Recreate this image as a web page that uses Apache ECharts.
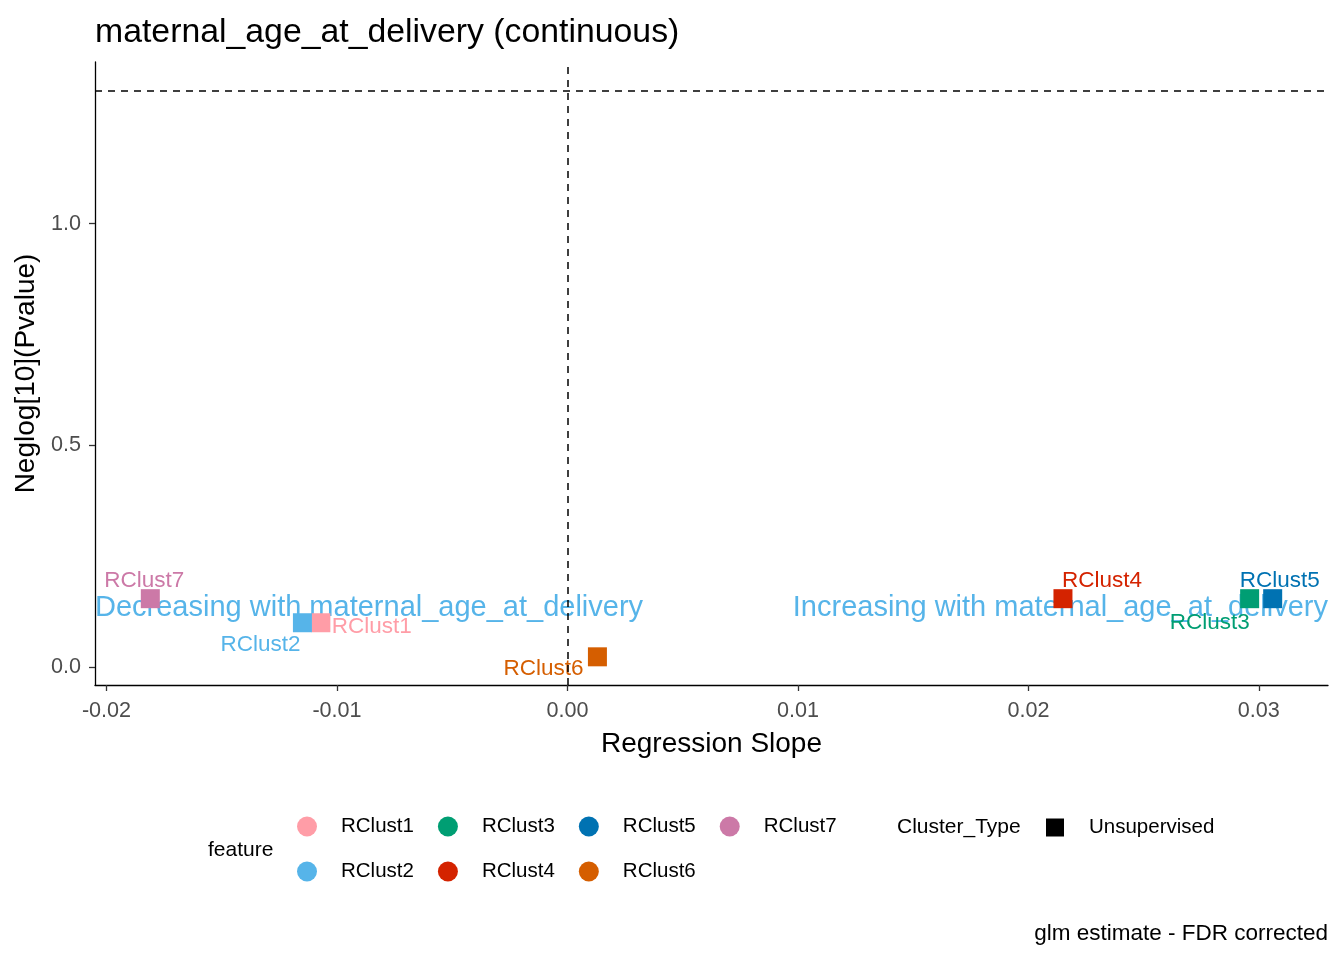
<!DOCTYPE html>
<html>
<head>
<meta charset="utf-8">
<script src="https://cdn.jsdelivr.net/npm/echarts@6/dist/echarts.min.js"></script>
<style>
  html, body { margin: 0; padding: 0; background: #fff; }
  #chart { width: 1344px; height: 960px; }
</style>
</head>
<body>
<div id="chart"></div>
<script>
// data
var clusters = ['RClust1', 'RClust2', 'RClust3', 'RClust4', 'RClust5', 'RClust6', 'RClust7'];
var slope = [-0.0107, -0.0115, 0.0296, 0.0215, 0.0306, 0.0013, -0.0181];
var negLogP = [0.0995, 0.0995, 0.1538, 0.1538, 0.1538, 0.0226, 0.1538];
var xTicks = [-0.02, -0.01, 0, 0.01, 0.02, 0.03];
var yTicks = [0, 0.5, 1.0];
var pCutoff = 1.30103; // -log10(0.05)
var annoText = ['Decreasing with maternal_age_at_delivery', 'Increasing with maternal_age_at_delivery'];
var annoY = 0.1335;

var xMin = -0.0205, xMax = 0.0330;
var yMin = -0.041, yMax = 1.365;

var colors = {
    RClust1: '#FF9DA7', RClust2: '#56B4E9', RClust3: '#009E73', RClust4: '#D42300',
    RClust5: '#0072B2', RClust6: '#D55E00', RClust7: '#CC79A7'
};
// repelled label offsets (px) from each square
var labelOffset = {
    RClust1: [51, 4], RClust2: [-42, 22], RClust3: [-40, 24], RClust4: [39, -18],
    RClust5: [7, -18], RClust6: [-54, 12], RClust7: [-6, -18]
};

var font = 'Liberation Sans, Arial, sans-serif';
var chart = echarts.init(document.getElementById('chart'));

var series = [];
// annotation text underneath everything
series.push({
    type: 'scatter',
    name: 'anno',
    silent: true,
    symbolSize: 0.1,
    itemStyle: { color: 'rgba(0,0,0,0)', opacity: 1 },
    z: 1,
    data: [
        { value: [xMin, annoY], label: { align: 'left', formatter: annoText[0] } },
        { value: [xMax, annoY], label: { align: 'right', formatter: annoText[1] } }
    ],
    label: {
        show: true, position: 'inside', color: '#56B4E9', opacity: 1,
        fontFamily: font, fontSize: 29, verticalAlign: 'middle'
    },
    markLine: {
        silent: true,
        symbol: 'none',
        label: { show: false },
        lineStyle: { color: '#000', type: [7, 6], width: 1.5, opacity: 1 },
        data: [{ yAxis: pCutoff }, { xAxis: 0 }]
    }
});
clusters.forEach(function (c, i) {
    series.push({
        type: 'scatter',
        name: c,
        symbol: 'rect',
        symbolSize: 19,
        z: 3,
        itemStyle: { color: colors[c], opacity: 1 },
        data: [[slope[i], negLogP[i]]],
        label: {
            show: true, position: 'inside', formatter: c, color: colors[c],
            offset: labelOffset[c], fontFamily: font, fontSize: 22.5
        }
    });
});
series.push({ type: 'scatter', name: 'Unsupervised', itemStyle: { color: '#000', opacity: 1 }, data: [] });

var plain = function (size) {
    return { fontFamily: font, fontSize: size, fontWeight: 'normal', color: '#000' };
};

chart.setOption({
    animation: false,
    backgroundColor: '#fff',
    title: [
        { text: 'maternal_age_at_delivery (continuous)', left: 95, top: 16, padding: 0, textStyle: plain(33.8) },
        { text: 'glm estimate - FDR corrected', right: 16, top: 922, padding: 0, textStyle: plain(22.5) },
        { text: 'feature', left: 208, top: 840, padding: 0, textStyle: plain(21) },
        { text: 'Cluster_Type', left: 897, top: 817, padding: 0, textStyle: plain(21) }
    ],
    grid: { left: 95, right: 16, top: 62, bottom: 275, containLabel: false },
    xAxis: {
        type: 'value', min: xMin, max: xMax,
        name: 'Regression Slope', nameLocation: 'middle', nameGap: 45,
        nameTextStyle: { fontFamily: font, fontSize: 28, color: '#000' },
        splitLine: { show: false },
        axisLine: { show: true, onZero: false, lineStyle: { color: '#000', width: 1.3 } },
        axisTick: { show: true, customValues: xTicks, length: 6, lineStyle: { color: '#333', width: 1.3 } },
        axisLabel: {
            customValues: xTicks, margin: 15, fontFamily: font, fontSize: 21.6, color: '#4D4D4D',
            formatter: function (v) { return v.toFixed(2); }
        }
    },
    yAxis: {
        type: 'value', min: yMin, max: yMax,
        name: 'Neglog[10](Pvalue)', nameLocation: 'middle', nameGap: 49,
        nameTextStyle: { fontFamily: font, fontSize: 28, color: '#000' },
        splitLine: { show: false },
        axisLine: { show: true, onZero: false, lineStyle: { color: '#000', width: 1.3 } },
        axisTick: { show: true, customValues: yTicks, length: 6, lineStyle: { color: '#333', width: 1.3 } },
        axisLabel: {
            customValues: yTicks, margin: 14, fontFamily: font, fontSize: 21.6, color: '#4D4D4D',
            formatter: function (v) { return v.toFixed(1); }
        }
    },
    legend: [
        {
            left: 297, top: 816, width: 570, orient: 'horizontal', padding: 0,
            itemWidth: 20, itemHeight: 20, itemGap: 24,
            selectedMode: false,
            itemStyle: { opacity: 1 },
            textStyle: { fontFamily: font, fontSize: 20.5, color: '#000', padding: [0, 0, 0, 19] },
            data: ['RClust1', 'RClust3', 'RClust5', 'RClust7', 'RClust2', 'RClust4', 'RClust6']
                .map(function (n) { return { name: n, icon: 'circle' }; })
        },
        {
            left: 1046, top: 817, padding: 0,
            itemWidth: 18, itemHeight: 18,
            selectedMode: false,
            itemStyle: { opacity: 1 },
            textStyle: { fontFamily: font, fontSize: 20.5, color: '#000', padding: [0, 0, 0, 20] },
            data: [{ name: 'Unsupervised', icon: 'rect' }]
        }
    ],
    series: series
});
</script>
</body>
</html>
